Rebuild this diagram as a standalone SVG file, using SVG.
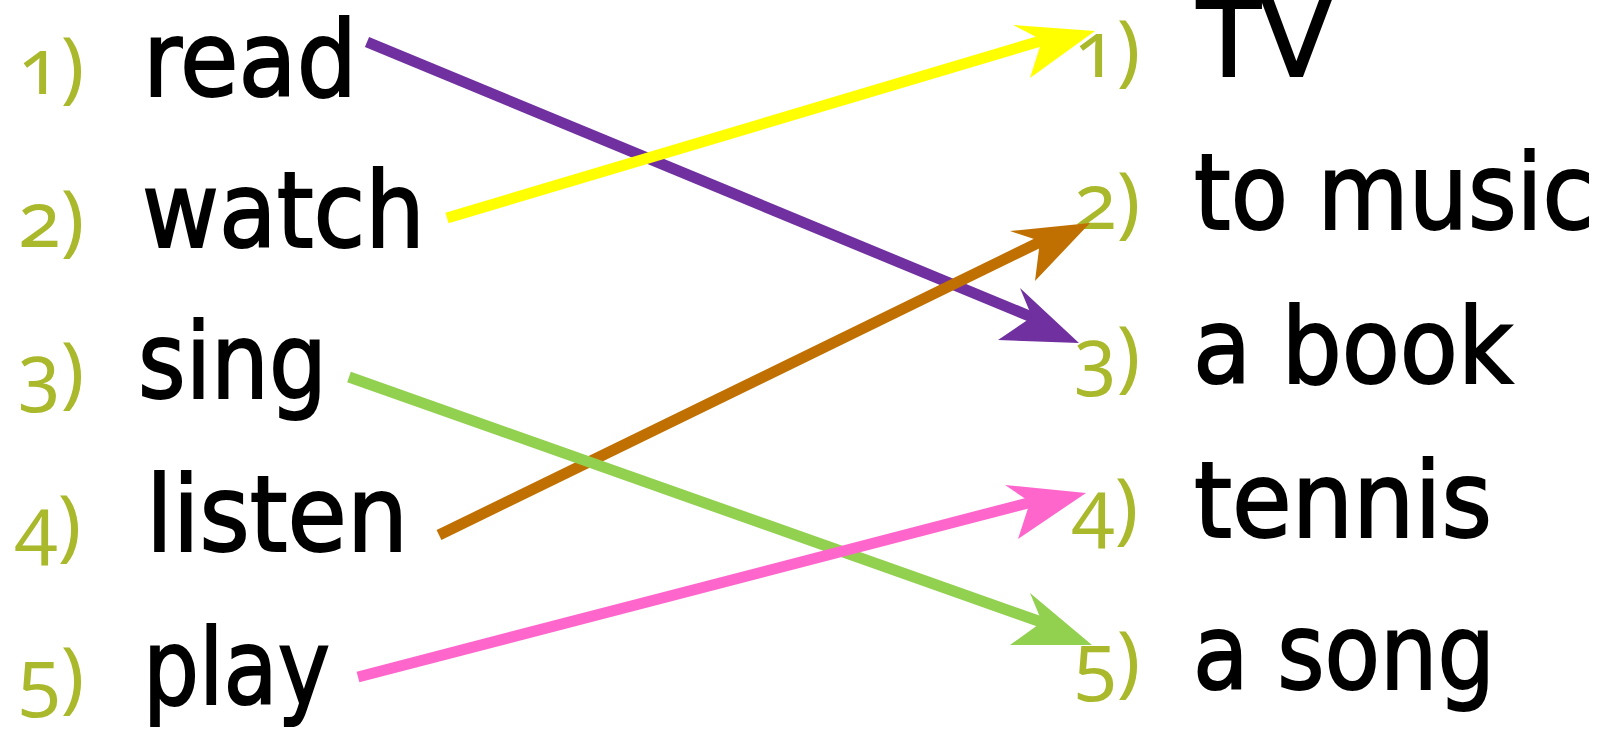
<svg xmlns="http://www.w3.org/2000/svg" width="1608" height="733" viewBox="0 0 1608 733">
<style>
.num{font-family:"Noto Sans","DejaVu Sans",sans-serif;font-size:78px;fill:#AAB92B;font-variant-numeric:oldstyle-nums;}
.word{font-family:"DejaVu Sans","Noto Sans",sans-serif;font-size:106px;fill:#000;stroke:#000;stroke-width:2;}
.ln{fill:none;stroke-width:11;stroke-linecap:butt;}
.purple{stroke:#7030A0;} .purpleF{fill:#7030A0;}
.yellow{stroke:#FFFF00;} .yellowF{fill:#FFFF00;}
.brown{stroke:#C07000;} .brownF{fill:#C07000;}
.green{stroke:#92D050;} .greenF{fill:#92D050;}
.pink{stroke:#FF66CC;} .pinkF{fill:#FF66CC;}
</style>
<rect width="1608" height="733" fill="#fff"/>
<g id="left-1"><text class="num" x="18" y="94">1)</text><text class="word" x="143" y="96" textLength="214" lengthAdjust="spacingAndGlyphs">read</text></g>
<g id="left-2"><text class="num" x="18" y="247">2)</text><text class="word" x="142" y="247" textLength="283" lengthAdjust="spacingAndGlyphs">watch</text></g>
<g id="left-3"><text class="num" x="18" y="399">3)</text><text class="word" x="138" y="398" textLength="189" lengthAdjust="spacingAndGlyphs">sing</text></g>
<g id="left-4"><text class="num" x="15" y="552">4)</text><text class="word" x="146" y="551" textLength="262" lengthAdjust="spacingAndGlyphs">listen</text></g>
<g id="left-5"><text class="num" x="18" y="704">5)</text><text class="word" x="143" y="704" textLength="187" lengthAdjust="spacingAndGlyphs">play</text></g>
<g id="right-1"><text class="num" x="1074" y="77">1)</text><text class="word" x="1197" y="76" textLength="135" lengthAdjust="spacingAndGlyphs">TV</text></g>
<g id="right-2"><text class="num" x="1074" y="229">2)</text><text class="word" x="1194" y="229" textLength="400" lengthAdjust="spacingAndGlyphs">to music</text></g>
<g id="right-3"><text class="num" x="1074" y="383">3)</text><text class="word" x="1193" y="383" textLength="320" lengthAdjust="spacingAndGlyphs">a book</text></g>
<g id="right-4"><text class="num" x="1072" y="535">4)</text><text class="word" x="1194" y="537" textLength="298" lengthAdjust="spacingAndGlyphs">tennis</text></g>
<g id="right-5"><text class="num" x="1074" y="688">5)</text><text class="word" x="1193" y="689" textLength="302" lengthAdjust="spacingAndGlyphs">a song</text></g>
<g id="connectors">
<line class="ln purple" x1="367" y1="42" x2="1034" y2="318"/>
<polygon class="purpleF" points="1079,343 1020,288 1032,317 998,340"/>
<line class="ln yellow" x1="447" y1="218" x2="1044" y2="40"/>
<polygon class="yellowF" points="1095,31 1013,25 1042,40 1030,78"/>
<line class="ln brown" x1="439" y1="535" x2="1042" y2="241"/>
<polygon class="brownF" points="1090,223 1010,231 1040,241 1035,281"/>
<line class="ln green" x1="349" y1="377" x2="1044" y2="623"/>
<polygon class="greenF" points="1092,645 1030,593 1042,622 1010,645"/>
<line class="ln pink" x1="358" y1="677" x2="1032" y2="502"/>
<polygon class="pinkF" points="1086,493 1005,485 1030,502 1018,539"/>
</g>
</svg>
